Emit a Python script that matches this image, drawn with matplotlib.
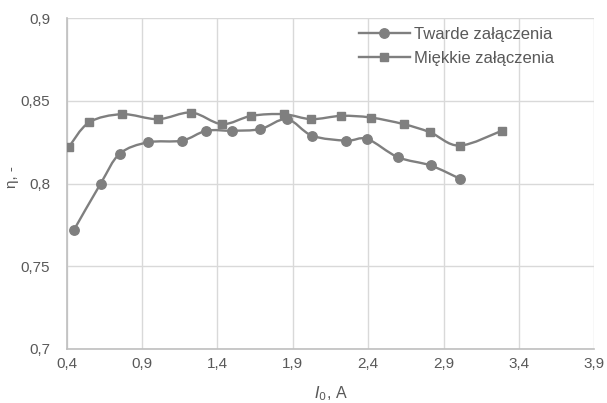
import numpy as np
import matplotlib
matplotlib.use("Agg")
import matplotlib.pyplot as plt
from matplotlib.path import Path
from matplotlib.patches import PathPatch
from matplotlib.lines import Line2D
from matplotlib.ticker import FuncFormatter

plt.rcParams['font.family'] = ['Liberation Sans', 'DejaVu Sans']

# Measured data
hard_label = "Twarde załączenia"
hard_x = [0.448, 0.625, 0.751, 0.939, 1.165, 1.326, 1.499, 1.685, 1.861, 2.028,
          2.255, 2.394, 2.597, 2.814, 3.008]
hard_y = [0.772, 0.800, 0.818, 0.825, 0.826, 0.832, 0.832, 0.833, 0.839, 0.829,
          0.826, 0.827, 0.816, 0.811, 0.803]

soft_label = "Miękkie załączenia"
soft_x = [0.413, 0.548, 0.767, 1.005, 1.227, 1.430, 1.625, 1.841, 2.023, 2.222,
          2.416, 2.635, 2.812, 3.006, 3.287]
soft_y = [0.822, 0.837, 0.842, 0.839, 0.843, 0.836, 0.841, 0.842, 0.839, 0.841,
          0.840, 0.836, 0.831, 0.823, 0.832]

x_ticks = [0.4, 0.9, 1.4, 1.9, 2.4, 2.9, 3.4, 3.9]
y_ticks = [0.7, 0.75, 0.8, 0.85, 0.9]

GRAY = '#7f7f7f'
TXT = '#595959'

fig = plt.figure(figsize=(6.07, 4.03), dpi=100)
ax = fig.add_axes([0.1099, 0.134, 0.8691, 0.8206])
ax.set_xlim(0.4, 3.9)
ax.set_ylim(0.7, 0.9)


def smooth_path(xs, ys):
    """Bezier-smoothed polyline (Catmull-Rom style) built in display space."""
    pts = ax.transData.transform(np.column_stack([xs, ys]))
    n = len(pts)
    verts = [pts[0]]
    codes = [Path.MOVETO]
    for i in range(n - 1):
        p0 = pts[i - 1] if i > 0 else pts[i]
        p1 = pts[i]
        p2 = pts[i + 1]
        p3 = pts[i + 2] if i + 2 < n else pts[i + 1]
        c1 = p1 + (p2 - p0) / 6.0
        c2 = p2 - (p3 - p1) / 6.0
        verts += [c1, c2, p2]
        codes += [Path.CURVE4] * 3
    inv = ax.transData.inverted()
    return Path(inv.transform(np.array(verts)), codes)


for xs, ys, mk, ms in [(hard_x, hard_y, 'o', 6.8), (soft_x, soft_y, 's', 6.3)]:
    ax.add_patch(PathPatch(smooth_path(xs, ys), facecolor='none', edgecolor=GRAY,
                           lw=1.7, zorder=3, capstyle='round'))
    ax.plot(xs, ys, linestyle='none', marker=mk, ms=ms, color=GRAY,
            markeredgecolor=GRAY, zorder=4)

ax.set_xticks(x_ticks)
ax.set_yticks(y_ticks)
fmt = FuncFormatter(lambda v, p: ('%g' % round(v, 3)).replace('.', ','))
ax.xaxis.set_major_formatter(fmt)
ax.yaxis.set_major_formatter(fmt)
ax.grid(True, color='#d9d9d9', lw=1.0, zorder=0)
ax.set_axisbelow(True)
for s in ['top', 'right']:
    ax.spines[s].set_visible(False)
for s in ['left', 'bottom']:
    ax.spines[s].set_color('#bfbfbf')
    ax.spines[s].set_linewidth(1.2)
ax.tick_params(length=0, colors=TXT, labelsize=11)
ax.tick_params(axis='y', pad=12)
ax.tick_params(axis='x', pad=6)

ax.set_xlabel(r'$\mathit{I}_{0}$, A', color=TXT, fontsize=11.5, labelpad=9)
ax.set_ylabel('η, -', color=TXT, fontsize=11)
ax.yaxis.set_label_coords(-0.09, 0.52)

handles = [Line2D([], [], color=GRAY, lw=1.7, marker='o', ms=6.8),
           Line2D([], [], color=GRAY, lw=1.7, marker='s', ms=6.3)]
leg = fig.legend(handles, [hard_label, soft_label], loc='upper left',
                 bbox_to_anchor=(0.566, 0.97), frameon=False, fontsize=12,
                 handlelength=3.1, handletextpad=0.2, labelspacing=0.55,
                 labelcolor=TXT)

fig.savefig('out.png', dpi=100)
